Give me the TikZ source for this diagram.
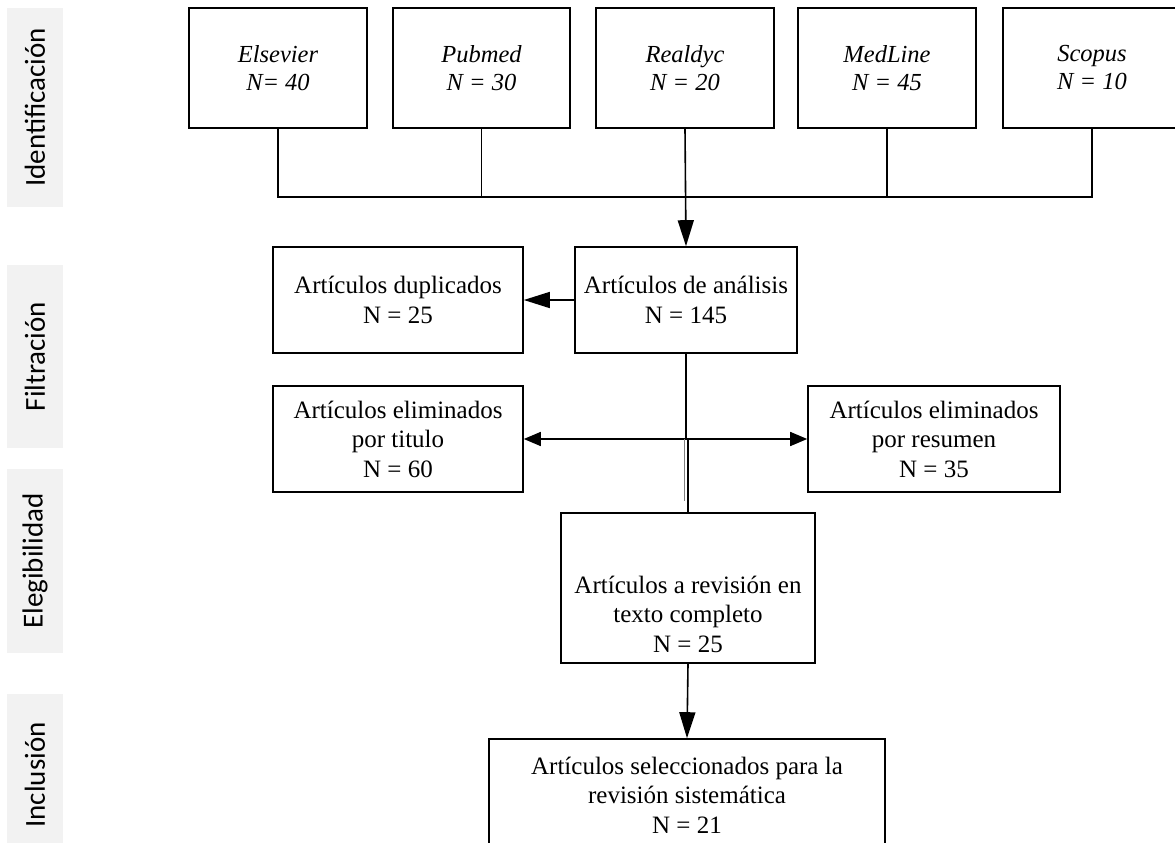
\documentclass[tikz,border=0pt]{standalone}
\usepackage{fontspec}
\setmainfont{Liberation Serif}
\newfontfamily\labfont{Carlito}
\usetikzlibrary{arrows.meta}
\definecolor{labgray}{HTML}{F2F2F2}
\begin{document}
\begin{tikzpicture}[x=1pt,y=-1pt,
  ln/.style={line width=1.6pt},
  box/.style={draw, line width=1.6pt, align=center, inner sep=0pt, font=\fontsize{25}{29.5}\selectfont},
  src/.style={box, minimum width=178pt, minimum height=120pt, font=\fontsize{24.5}{28}\selectfont\itshape},
  txt/.style={align=center, inner sep=0pt, font=\fontsize{25}{29.5}\selectfont},
  lab/.style={fill=labgray, rotate=90, minimum height=56pt, inner sep=0pt, font=\labfont\fontsize{29}{32}\selectfont},
  bigarrow/.style={ln, -{Triangle[length=26pt,width=16pt]}},
  smalltips/.style={ln, {Triangle[length=17pt,width=14pt]}-{Triangle[length=17pt,width=14pt]}}
]
\useasboundingbox (0,0) rectangle (1175,843);

% stage labels
\node[lab, minimum width=199pt] (l1) at (35,107.5) {Identificación};
\node[lab, minimum width=183pt] (l2) at (35,356.5) {Filtración};
\node[lab, minimum width=184pt] (l3) at (35,561) {Elegibilidad};
\node[lab, minimum width=162pt] (l4) at (35,775) {Inclusión};

% sources
\node[src] (els) at (278,68) {Elsevier\\N= 40};
\node[src, minimum width=177pt] (pub) at (481.5,68) {Pubmed\\N = 30};
\node[src] (rea) at (685,68) {Realdyc\\N = 20};
\node[src] (med) at (887,68) {MedLine\\N = 45};
\node[src] (sco) at (1092,68) {Scopus\\N = 10};

% process boxes
\node[box, minimum width=250pt, minimum height=106pt] (dup) at (398,300) {Artículos duplicados\\N = 25};
\node[box, minimum width=222pt, minimum height=106pt] (ana) at (686,300) {Artículos de análisis\\N = 145};
\node[box, minimum width=250pt, minimum height=106pt] (tit) at (398,439) {Artículos eliminados\\por titulo\\N = 60};
\node[box, minimum width=252pt, minimum height=106pt] (res) at (934,439) {Artículos eliminados\\por resumen\\N = 35};
\node[box, minimum width=254pt, minimum height=150pt] (tex) at (688,588) {};
\node[txt] (texT) at (688,614) {Artículos a revisión en\\texto completo\\N = 25};
\node[box, minimum width=396pt, minimum height=112pt] (fin) at (687,795) {Artículos seleccionados para la\\revisión sistemática\\N = 21};

% helper coordinates
\coordinate (bus) at (0,197);
\coordinate (mid) at (0,439);
\coordinate (gtop) at (684,439);
\coordinate (gbot) at (684,501);

% connectors
\draw[ln] (els.south) -- (els.south |- bus) -- (sco.south |- bus) -- (sco.south);
\draw[ln] (pub.south) -- (pub.south |- bus);
\draw[ln] (med.south) -- (med.south |- bus);
\draw[bigarrow] (rea.south) -- (ana.north);
\draw[bigarrow] (ana.west) -- (dup.east);
\draw[ln] (ana.south) -- (ana.south |- mid);
\draw[smalltips] (tit.east) -- (res.west);
\draw[ln] (tex.north |- mid) -- (tex.north);
\draw[gray, line width=1pt] (gtop) -- (gbot);
\draw[bigarrow] (tex.south) -- (fin.north);
\end{tikzpicture}
\end{document}
